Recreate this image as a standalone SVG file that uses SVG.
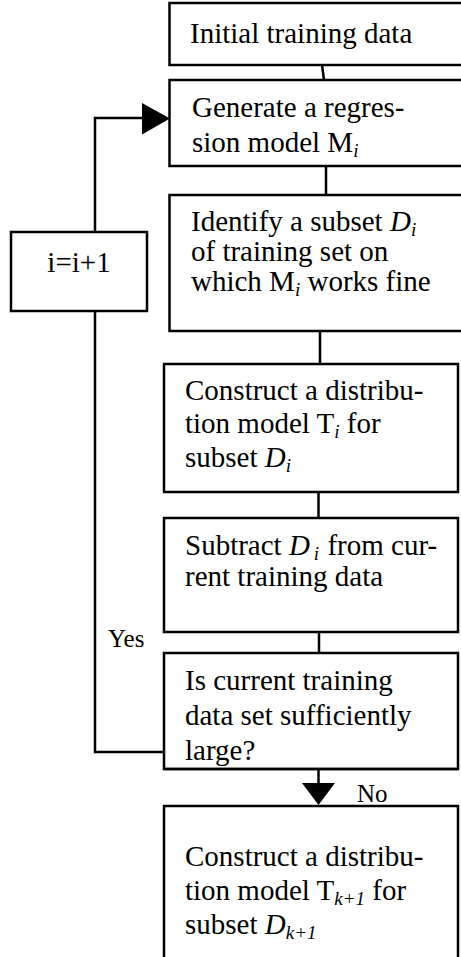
<svg xmlns="http://www.w3.org/2000/svg" width="461" height="957" viewBox="0 0 461 957">
<style>
.box{fill:#fff;stroke:#000;stroke-width:2.5}
.ln{fill:none;stroke:#000;stroke-width:2.5}
.t{font-family:"Liberation Serif","Times New Roman",serif;font-size:29px;fill:#000}
.lb{font-family:"Liberation Serif","Times New Roman",serif;font-size:25px;fill:#000}
.it{font-style:italic}
.sub{font-size:19px;font-style:italic}
</style>
<rect width="461" height="957" fill="#fff"/>
<g id="connectors">
<line class="ln" x1="322" y1="65" x2="324" y2="80"/>
<line class="ln" x1="326" y1="166" x2="326" y2="195"/>
<line class="ln" x1="320" y1="331" x2="320" y2="364"/>
<line class="ln" x1="318.5" y1="492" x2="318.5" y2="518"/>
<line class="ln" x1="319" y1="632" x2="319" y2="653"/>
<line class="ln" x1="318.5" y1="769" x2="318.5" y2="785"/>
<polygon points="302,783 335,783 318.5,805" fill="#000"/>
<polyline class="ln" points="164,752 95,752 95,311"/>
<polyline class="ln" points="95,232 95,118 143,118"/>
<polygon points="142,103 170,118.5 142,134.5" fill="#000"/>
</g>
<g id="n1">
<rect class="box" x="169.5" y="3" width="300" height="62"/>
<text class="t" x="190" y="43">Initial training data</text>
</g>
<g id="n2">
<rect class="box" x="169.5" y="80" width="300" height="86"/>
<text class="t" x="192" y="117">Generate a regres-</text>
<text class="t" x="192" y="152">sion model M<tspan class="sub" dy="5">i</tspan></text>
</g>
<g id="n3">
<rect class="box" x="169.5" y="195" width="300" height="136"/>
<text class="t" x="191" y="231">Identify a subset <tspan class="it">D</tspan><tspan class="sub" dy="5">i</tspan></text>
<text class="t" x="191" y="261">of training set on</text>
<text class="t" x="191" y="291">which M<tspan class="sub" dy="5">i</tspan><tspan dy="-5"> works fine</tspan></text>
</g>
<g id="n4">
<rect class="box" x="164" y="364" width="294" height="128"/>
<text class="t" x="185" y="400">Construct a distribu-</text>
<text class="t" x="185" y="433">tion model T<tspan class="sub" dy="5">i</tspan><tspan dy="-5"> for</tspan></text>
<text class="t" x="185" y="467">subset <tspan class="it">D</tspan><tspan class="sub" dy="5">i</tspan></text>
</g>
<g id="n5">
<rect class="box" x="164" y="518" width="294" height="114"/>
<text class="t" x="185" y="555">Subtract <tspan class="it">D</tspan><tspan class="sub" dx="4" dy="5">i</tspan><tspan dx="1" dy="-5"> from cur-</tspan></text>
<text class="t" x="185" y="586">rent training data</text>
</g>
<g id="n6">
<rect class="box" x="164" y="653" width="294" height="116"/>
<text class="t" x="185" y="690">Is current training</text>
<text class="t" x="185" y="725">data set sufficiently</text>
<text class="t" x="185" y="760">large?</text>
<line class="ln" x1="164" y1="769" x2="458" y2="769"/>
</g>
<g id="n7">
<rect class="box" x="164" y="806" width="294" height="170"/>
<text class="t" x="185" y="866">Construct a distribu-</text>
<text class="t" x="185" y="900">tion model T<tspan class="sub" dy="5">k+1</tspan><tspan dy="-5"> for</tspan></text>
<text class="t" x="185" y="934">subset <tspan class="it">D</tspan><tspan class="sub" dy="5">k+1</tspan></text>
</g>
<g id="n8">
<rect class="box" x="11" y="232" width="136" height="79"/>
<text class="t" x="79" y="272" text-anchor="middle">i=i+1</text>
</g>
<g id="labels">
<text class="lb" x="108" y="647">Yes</text>
<text class="lb" x="357" y="802">No</text>
</g>
</svg>
